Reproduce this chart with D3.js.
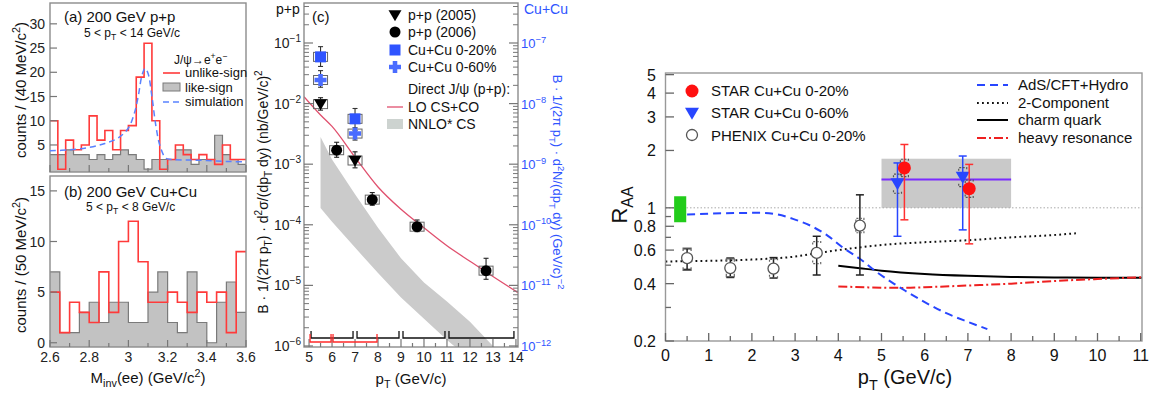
<!DOCTYPE html>
<html><head><meta charset="utf-8">
<script src="https://cdn.jsdelivr.net/npm/d3@7"></script>
<style>body{margin:0;background:#fff}svg{display:block}</style>
</head><body>
<svg id="c" width="1158" height="394"></svg>
<script>
// ---------- DATA ----------
// Panel (a): 200 GeV p+p, 40 MeV bins from 2.6 to 3.6
const massStart = 2.6;
const binWidthA = 0.04;
const unlikeA = [10,0,6,4,5,11,6,8,4,8,9,19,26,10,0,2,5,3,2,3,2,1,5,2,2];
const likeA   = [3,3,4,3,3,2,3,2,3,4,3,2,0,2,2,2,4,4,1,2,2,7,3,2,1];
const simMass = [2.6,2.7,2.8,2.88,2.95,3.0,3.03,3.05,3.07,3.085,3.1,3.12,3.14,3.16,3.19,3.22,3.3,3.4,3.5,3.6];
const simCounts = [3.8,4.0,4.5,5.3,6.5,8.5,11.5,15,19.5,20.8,19.8,15,9,5,2.3,2.0,1.9,1.8,1.6,1.5];
const yTicksA = [5,10,15,20,25,30];
// Panel (b): 200 GeV Cu+Cu, 50 MeV bins
const binWidthB = 0.05;
const unlikeB = [5,1,4,3,2,7,3,10,12,8,4,4,5,4,3,5,4,5,1,9];
const likeB   = [7,1,1,3,4,2,4,4,2,2,5,7,2,1,7,2,0,4,6,3];
const yTicksB = [0,5,10,15];
const massTicks = [2.6,2.8,3.0,3.2,3.4,3.6];
const massTickLabels = ["2.6","2.8","3","3.2","3.4","3.6"];

// Panel (c): invariant cross sections
const pp05Pt = [5.5, 7.0];
const pp05Y = [9.8e-3, 1.15e-3];
const pp05Hi = [1.25e-2, 1.6e-3];
const pp05Lo = [7.8e-3, 8.7e-4];
const pp06Pt = [6.2, 7.75, 9.7, 12.7];
const pp06Y = [1.7e-3, 2.6e-4, 9.3e-5, 1.75e-5];
const pp06Hi = [2.3e-3, 3.4e-4, 1.2e-4, 2.8e-5];
const pp06Lo = [1.3e-3, 2.1e-4, 7.7e-5, 1.26e-5];
const cu20Pt = [5.5, 7.0];
const cu20Y = [5.9e-8, 5.6e-9];
const cu20Hi = [8.7e-8, 8.3e-9];
const cu20Lo = [4.1e-8, 3.6e-9];
const cu60Pt = [5.5, 7.0];
const cu60Y = [2.45e-8, 3.2e-9];
const cu60Hi = [3.5e-8, 4.0e-9];
const cu60Lo = [1.86e-8, 2.5e-9];
const loPt = [4.78, 5.5, 6, 7, 8, 9, 10, 11, 12, 13, 14.09];
const loY = [1.3e-2, 6.5e-3, 4.2e-3, 1.3e-3, 4.2e-4, 1.8e-4, 8.9e-5, 4.5e-5, 2.5e-5, 1.4e-5, 7.6e-6];
const nnloPt = [5.5, 6, 7, 8, 9, 10, 11, 12, 13, 14];
const nnloHi = [2.8e-3, 1.2e-3, 3.2e-4, 8.9e-5, 2.8e-5, 1.12e-5, 5.4e-6, 2.5e-6, 1.0e-6, 4e-7];
const nnloLo = [1.9e-4, 1.12e-4, 4.2e-5, 1.6e-5, 6.3e-6, 2.8e-6, 1.26e-6, 6e-7, 3e-7, 1.5e-7];
const ppBins = [[5,7],[7,9],[9,11],[11,14]];
const cuBins = [[5,6],[6,8]];
const ptTicksC = [5,6,7,8,9,10,11,12,13,14];
const decadesC = [-6,-5,-4,-3,-2,-1];

// Right panel: R_AA
const phenixPt = [0.5,1.5,2.5,3.5,4.5];
const phenixR = [0.545,0.483,0.48,0.58,0.807];
const phenixHi = [0.61,0.545,0.548,0.709,1.17];
const phenixLo = [0.475,0.431,0.428,0.444,0.444];
const phenixSysHi = [0.615,0.54,0.54,0.665,0.88];
const phenixSysLo = [0.47,0.435,0.43,0.51,0.74];
const star20Pt = [5.53,7.03];
const star20R = [1.62,1.26];
const star20Hi = [2.15,1.69];
const star20Lo = [0.865,0.647];
const star60Pt = [5.37,6.88];
const star60R = [1.34,1.45];
const star60Hi = [1.72,1.87];
const star60Lo = [0.709,0.766];
const adsPt = [0.5,1.4,2.2,2.6,2.95,3.35,3.75,4.1,4.5,4.9,5.3,5.55,6.0,6.5,7.0,7.45];
const adsR  = [0.922,0.937,0.941,0.922,0.875,0.807,0.715,0.62,0.54,0.458,0.398,0.367,0.32,0.28,0.252,0.231];
const twoCompPt = [0,1,2,3,3.5,4,4.5,5,6,7,8,9,9.5];
const twoCompR  = [0.523,0.527,0.535,0.555,0.578,0.6,0.62,0.638,0.66,0.676,0.7,0.72,0.735];
const charmPt = [4,4.5,5,6,7,8,9,10,11.03];
const charmR  = [0.497,0.482,0.468,0.45,0.44,0.434,0.431,0.43,0.43];
const resPt = [4,5,5.5,6,7,8,9,10,11.03];
const resR  = [0.387,0.381,0.38,0.383,0.391,0.4,0.413,0.423,0.432];
const boxPt = [5,8]; const boxR = [1.0,1.81]; const avgR = 1.41;
const normPt = [0.2,0.48]; const normR = [0.84,1.15];
const raaTicks = [0.2,0.4,0.6,0.8,1,2,3,4,5];
const raaTickLabels = ["0.2","0.4","0.6","0.8","1","2","3","4","5"];
const raaMinor = [0.3,0.5,0.7,0.9];
const ptTicksR = [0,1,2,3,4,5,6,7,8,9,10,11];

// ---------- DRAWING ----------
const F = "'Liberation Sans', Arial, Helvetica, sans-serif";
const svg = d3.select("#c");
const BLUE = "#2f54ff";

function rich(parent, x, y, parts, o={}) {
  const fs = o.size || 14;
  const t = parent.append("text").attr("x", x).attr("y", y)
    .attr("font-size", fs).attr("font-family", F)
    .attr("fill", o.fill || "#111").attr("text-anchor", o.anchor || "start");
  if (o.rotate) t.attr("transform", `rotate(${o.rotate},${x},${y})`);
  let cur = 0;
  parts.forEach(p => {
    const [s, k] = typeof p === "string" ? [p, null] : p;
    const target = k === "sub" ? 0.28*fs : k === "sup" ? -0.42*fs : 0;
    const ts = t.append("tspan").attr("dy", target - cur).text(s);
    if (k) ts.attr("font-size", fs*0.72);
    cur = target;
  });
  return t;
}
function line(g, x1,y1,x2,y2, col, w, dash) {
  const l = g.append("line").attr("x1",x1).attr("y1",y1).attr("x2",x2).attr("y2",y2)
    .attr("stroke",col).attr("stroke-width",w||1);
  if (dash) l.attr("stroke-dasharray",dash);
  return l;
}
function stepPts(vals, start, bw) {
  const pts = [];
  vals.forEach((v,i) => { pts.push([start+i*bw, v]); pts.push([start+(i+1)*bw, v]); });
  return pts;
}

// ---- panels (a) and (b) ----
const xM = d3.scaleLinear([2.6,3.6],[50,246]);
function histPanel(top, bottom, dom, unlike, like, bw, yTicks, clipId) {
  const y = d3.scaleLinear(dom, [bottom, top]);
  const g = svg.append("g");
  svg.append("clipPath").attr("id",clipId).append("rect").attr("x",50).attr("y",top).attr("width",196).attr("height",bottom-top);
  const gp = g.append("g").attr("clip-path",`url(#${clipId})`);
  const lp = stepPts(like, massStart, bw);
  gp.append("path").attr("d", d3.area().x(d=>xM(d[0])).y0(bottom).y1(d=>y(d[1]))(lp))
    .attr("fill","#c2c2c2").attr("stroke","none");
  gp.append("path").attr("d", d3.line().x(d=>xM(d[0])).y(d=>y(d[1]))(lp))
    .attr("fill","none").attr("stroke","#7a7a7a").attr("stroke-width",1.2);
  const up = stepPts(unlike, massStart, bw);
  gp.append("path").attr("d", d3.line().x(d=>xM(d[0])).y(d=>y(d[1]))(up))
    .attr("fill","none").attr("stroke","#ff3a3a").attr("stroke-width",1.6);
  g.append("rect").attr("x",50).attr("y",top).attr("width",196).attr("height",bottom-top)
    .attr("fill","none").attr("stroke","#8c8c8c").attr("stroke-width",1.4);
  yTicks.forEach(t => {
    line(g, 50, y(t), 57, y(t), "#777", 1.2);
    g.append("text").attr("x",45).attr("y",y(t)+5).attr("text-anchor","end")
      .attr("font-size",14).attr("font-family",F).attr("fill","#222").text(t);
  });
  d3.range(0, 11).forEach(i => {
    const m = 2.6 + i*0.1;
    line(g, xM(m), bottom, xM(m), bottom - (i%2===0 ? 7 : 4), "#777", 1.2);
  });
  return {g, y};
}
const pa = histPanel(3, 172, [-0.58, 34.3], unlikeA, likeA, binWidthA, yTicksA, "clipA");
pa.g.append("path").attr("d", d3.line().curve(d3.curveCatmullRom).x((d,i)=>xM(simMass[i])).y((d,i)=>pa.y(simCounts[i]))(simMass))
  .attr("fill","none").attr("stroke","#5a82ff").attr("stroke-width",1.5).attr("stroke-dasharray","6,4");
const pb = histPanel(176, 347, [-0.42, 16.47], unlikeB, likeB, binWidthB, yTicksB, "clipB");

rich(svg, 64, 22, ["(a) 200 GeV p+p"], {size:15});
rich(svg, 84, 37, ["5 < p",["T","sub"]," < 14 GeV/c"], {size:12});
rich(svg, 174, 64, ["J/ψ→e",["+","sup"],"e",["−","sup"]], {size:12});
line(svg, 163, 73, 180, 73, "#ff3a3a", 1.6);
rich(svg, 185, 77, ["unlike-sign"], {size:13});
svg.append("rect").attr("x",163).attr("y",83).attr("width",17).attr("height",8).attr("fill","#c2c2c2").attr("stroke","#7a7a7a");
rich(svg, 185, 92, ["like-sign"], {size:13});
line(svg, 163, 102, 181, 102, "#5a82ff", 1.5, "6,4");
rich(svg, 185, 106, ["simulation"], {size:13});
rich(svg, 64, 197, ["(b) 200 GeV Cu+Cu"], {size:15});
rich(svg, 86, 211, ["5 < p",["T","sub"]," < 8 GeV/c"], {size:12});
rich(svg, 26, 90, ["counts / (40 MeV/c",["2","sup"],")"], {size:15, rotate:-90, anchor:"middle"});
rich(svg, 26, 265, ["counts / (50 MeV/c",["2","sup"],")"], {size:15, rotate:-90, anchor:"middle"});
massTicks.forEach((m,i) => {
  svg.append("text").attr("x",xM(m)).attr("y",362).attr("text-anchor","middle")
    .attr("font-size",14).attr("font-family",F).attr("fill","#222").text(massTickLabels[i]);
});
rich(svg, 148, 383, ["M",["inv","sub"],"(ee) (GeV/c",["2","sup"],")"], {size:15, anchor:"middle"});

// ---- panel (c) ----
const xC = d3.scaleLinear([4.78, 14.09], [304, 518]);
const yC = d3.scaleLog([Math.pow(10,-6.017), Math.pow(10,-0.34)], [347, 3]);
const yCu = d3.scaleLog(yC.domain().map(d=>d*1e-6), [347, 3]);
const gc = svg.append("g");
svg.append("clipPath").attr("id","clipC").append("rect").attr("x",304).attr("y",3).attr("width",214).attr("height",344);
const gcc = gc.append("g").attr("clip-path","url(#clipC)");
const bandPts = nnloPt.map((p,i)=>[xC(p), yC(nnloHi[i])]).concat(nnloPt.map((p,i)=>[xC(p), yC(nnloLo[i])]).reverse());
gcc.append("path").attr("d", d3.line().curve(d3.curveLinear)(bandPts)).attr("fill","#cbcbcb");
gcc.append("path").attr("d", d3.line().curve(d3.curveMonotoneX).x((d,i)=>xC(loPt[i])).y((d,i)=>yC(loY[i]))(loPt))
  .attr("fill","none").attr("stroke","#e0506e").attr("stroke-width",1.3);
gc.append("rect").attr("x",304).attr("y",3).attr("width",214).attr("height",344)
  .attr("fill","none").attr("stroke","#8c8c8c").attr("stroke-width",1.4);
d3.range(5, 14.01, 0.5).forEach(p => {
  const major = Math.abs(p - Math.round(p)) < 1e-6;
  line(gc, xC(p), 347, xC(p), 347 - (major ? 8 : 4), "#777", 1.2);
});
ptTicksC.forEach(p => {
  gc.append("text").attr("x",xC(p)).attr("y",362).attr("text-anchor","middle")
    .attr("font-size",14).attr("font-family",F).attr("fill","#222").text(p);
});
decadesC.forEach(d => {
  const yy = yC(Math.pow(10,d));
  line(gc, 304, yy, 313, yy, "#777", 1.2);
  line(gc, 518, yy, 509, yy, "#777", 1.2);
  rich(gc, 301, yy+5, ["10",[String(d).replace("-","−"),"sup"]], {size:14, anchor:"end", fill:"#222"});
  rich(gc, 521, yy+5, ["10",[String(d-6).replace("-","−"),"sup"]], {size:13, fill:BLUE});
  if (d < -1) {
    for (let k=2;k<10;k++){ const v=k*Math.pow(10,d); const yv=yC(v); if (yv<3) continue;
      line(gc, 304, yv, 309, yv, "#777", 1); line(gc, 518, yv, 513, yv, "#777", 1); }
  }
});
for (let k=2;k<10;k++){ const yv=yC(k*0.1); if (yv>=3){ line(gc,304,yv,309,yv,"#777",1); line(gc,518,yv,513,yv,"#777",1);} }
ppBins.forEach(b => {
  const x1 = xC(b[0])+2, x2 = xC(b[1])-2;
  gc.append("path").attr("d",`M${x1},331V338H${x2}V331`).attr("fill","none").attr("stroke","#111").attr("stroke-width",1.3);
});
cuBins.forEach(b => {
  const x1 = xC(b[0])+1, x2 = xC(b[1])-1;
  gc.append("path").attr("d",`M${x1},334V342H${x2}V334`).attr("fill","none").attr("stroke","#ff2a2a").attr("stroke-width",1.3);
});
function errC(g, x, hi, lo, col) {
  line(g, x, hi, x, lo, col, 1.1);
  line(g, x-2.5, hi, x+2.5, hi, col, 1.1);
  line(g, x-2.5, lo, x+2.5, lo, col, 1.1);
}
function sysBox(g, x, yv, col) {
  g.append("rect").attr("x",x-7).attr("y",yv-4.5).attr("width",14).attr("height",9)
    .attr("fill","none").attr("stroke",col||"#666").attr("stroke-width",1);
}
const tri = (x,y,s)=>`M${x-s},${y-s*0.75}L${x+s},${y-s*0.75}L${x},${y+s*0.95}Z`;
const plus = (x,y,s)=>{const a=s*0.38;return `M${x-a},${y-s}H${x+a}V${y-a}H${x+s}V${y+a}H${x+a}V${y+s}H${x-a}V${y+a}H${x-s}V${y-a}H${x-a}Z`;};
pp05Pt.forEach((p,i)=>{ const x=xC(p), yv=yC(pp05Y[i]); errC(gc,x,yC(pp05Hi[i]),yC(pp05Lo[i]),"#222"); sysBox(gc,x,yv);
  gc.append("path").attr("d",tri(x,yv,6.5)).attr("fill","#000"); });
pp06Pt.forEach((p,i)=>{ const x=xC(p), yv=yC(pp06Y[i]); errC(gc,x,yC(pp06Hi[i]),yC(pp06Lo[i]),"#222"); sysBox(gc,x,yv);
  gc.append("circle").attr("cx",x).attr("cy",yv).attr("r",5.5).attr("fill","#000"); });
cu20Pt.forEach((p,i)=>{ const x=xC(p), yv=yCu(cu20Y[i]); errC(gc,x,yCu(cu20Hi[i]),yCu(cu20Lo[i]),"#333"); sysBox(gc,x,yv);
  gc.append("rect").attr("x",x-5.5).attr("y",yv-5.5).attr("width",11).attr("height",11).attr("fill",BLUE); });
cu60Pt.forEach((p,i)=>{ const x=xC(p), yv=yCu(cu60Y[i]); errC(gc,x,yCu(cu60Hi[i]),yCu(cu60Lo[i]),"#333"); sysBox(gc,x,yv);
  gc.append("path").attr("d",plus(x,yv,6)).attr("fill","#4a6cff"); });
// legend (c)
const LMX = 395;
gc.append("path").attr("d",tri(LMX,15,6.5)).attr("fill","#000");
rich(gc, 408, 20, ["p+p (2005)"], {size:14});
gc.append("circle").attr("cx",LMX).attr("cy",32).attr("r",5.5).attr("fill","#000");
rich(gc, 408, 37, ["p+p (2006)"], {size:14});
gc.append("rect").attr("x",LMX-5.5).attr("y",44.5).attr("width",11).attr("height",11).attr("fill",BLUE);
rich(gc, 408, 55, ["Cu+Cu 0-20%"], {size:14});
gc.append("path").attr("d",plus(LMX,67,6)).attr("fill","#4a6cff");
rich(gc, 408, 72, ["Cu+Cu 0-60%"], {size:14});
rich(gc, 408, 94, ["Direct J/ψ (p+p):"], {size:14});
line(gc, 387, 107, 403, 107, "#e0506e", 1.3);
rich(gc, 408, 112, ["LO CS+CO"], {size:14});
gc.append("rect").attr("x",387).attr("y",119).attr("width",16).attr("height",10).attr("fill","#cdd3d0");
rich(gc, 408, 129, ["NNLO* CS"], {size:14});
rich(gc, 276, 14, ["p+p"], {size:14});
rich(gc, 312, 22, ["(c)"], {size:15});
rich(gc, 524, 14, ["Cu+Cu"], {size:14, fill:BLUE});
rich(gc, 268, 192, ["B · 1/(2π p",["T","sub"],") · d",["2","sup"],"σ/(dp",["T","sub"]," dy)   (nb/GeV/c)",["2","sup"]], {size:14, rotate:-90, anchor:"middle"});
rich(gc, 553, 182, ["B · 1/(2π p",["T","sub"],") · d",["2","sup"],"N/(dp",["T","sub"]," dy)   (GeV/c)",["−2","sup"]], {size:13, rotate:90, anchor:"middle", fill:BLUE});
rich(gc, 411, 384, ["p",["T","sub"]," (GeV/c)"], {size:15, anchor:"middle"});

// ---- right panel ----
const xR = d3.scaleLinear([0, 11.03], [665.5, 1142]);
const yR = d3.scaleLog([0.2, 5.1], [341, 73]);
const gr = svg.append("g");
svg.append("clipPath").attr("id","clipR").append("rect").attr("x",665.5).attr("y",73).attr("width",476.5).attr("height",268);
const grc = gr.append("g").attr("clip-path","url(#clipR)");
grc.append("rect").attr("x",xR(boxPt[0])).attr("y",yR(boxR[1])).attr("width",xR(boxPt[1])-xR(boxPt[0])).attr("height",yR(boxR[0])-yR(boxR[1])).attr("fill","#c9c9c9");
line(grc, xR(0), yR(1), xR(11.03), yR(1), "#aaa", 1, "1.5,2");
line(grc, xR(boxPt[0]), yR(avgR), xR(boxPt[1]), yR(avgR), "#7b2bff", 2);
const lr = (px, ry) => d3.line().curve(d3.curveMonotoneX).x((d,i)=>xR(px[i])).y((d,i)=>yR(ry[i]))(px);
grc.append("path").attr("d",lr(twoCompPt,twoCompR)).attr("fill","none").attr("stroke","#111").attr("stroke-width",2).attr("stroke-dasharray","1.8,3.2");
grc.append("path").attr("d",lr(charmPt,charmR)).attr("fill","none").attr("stroke","#000").attr("stroke-width",2);
grc.append("path").attr("d",lr(resPt,resR)).attr("fill","none").attr("stroke","#ee2020").attr("stroke-width",2).attr("stroke-dasharray","9,3,2,3");
grc.append("path").attr("d",lr(adsPt,adsR)).attr("fill","none").attr("stroke","#2846ff").attr("stroke-width",2).attr("stroke-dasharray","8,5");
grc.append("rect").attr("x",xR(normPt[0])).attr("y",yR(normR[1])).attr("width",xR(normPt[1])-xR(normPt[0])).attr("height",yR(normR[0])-yR(normR[1])).attr("fill","#22cc1a");
function errR(g, x, hi, lo, col, w) {
  line(g, x, yR(hi), x, yR(lo), col, w||1.5);
  line(g, x-4, yR(hi), x+4, yR(hi), col, w||1.5);
  line(g, x-4, yR(lo), x+4, yR(lo), col, w||1.5);
}
function sysBr(g, x, hi, lo, col, dash) {
  const a=yR(hi), b=yR(lo);
  const p1 = g.append("path").attr("d",`M${x-4},${a+3}V${a}H${x+4}V${a+3}M${x-4},${b-3}V${b}H${x+4}V${b-3}`)
    .attr("fill","none").attr("stroke",col).attr("stroke-width",1.2);
  if (dash) p1.attr("stroke-dasharray",dash);
}
phenixPt.forEach((p,i)=>{ const x=xR(p);
  errR(gr, x, phenixHi[i], phenixLo[i], "#222", 1.5);
  sysBr(gr, x, phenixSysHi[i], phenixSysLo[i], "#666", i>=2?"2,1.5":null);
  gr.append("circle").attr("cx",x).attr("cy",yR(phenixR[i])).attr("r",5.5).attr("fill","#fff").attr("stroke","#555").attr("stroke-width",1.3);
});
star60Pt.forEach((p,i)=>{ const x=xR(p);
  errR(gr, x, star60Hi[i], star60Lo[i], "#2846ff");
  sysBr(gr, x, star60R[i]*1.12, star60R[i]*0.89, "#555", "2,1.5");
  gr.append("path").attr("d",tri(x,yR(star60R[i]),7)).attr("fill","#2846ff");
});
star20Pt.forEach((p,i)=>{ const x=xR(p);
  errR(gr, x, star20Hi[i], star20Lo[i], "#ff3030");
  sysBr(gr, x, star20R[i]*1.11, star20R[i]*0.9, "#555", "2,1.5");
  gr.append("circle").attr("cx",x).attr("cy",yR(star20R[i])).attr("r",6.5).attr("fill","#ff1010");
});
gr.append("rect").attr("x",665.5).attr("y",73).attr("width",476.5).attr("height",268)
  .attr("fill","none").attr("stroke","#999").attr("stroke-width",1.4);
raaTicks.forEach((t,i)=>{ const yy=yR(t);
  line(gr, 665.5, yy, 674, yy, "#666", 1.3);
  gr.append("text").attr("x",656).attr("y",yy+6).attr("text-anchor","end").attr("font-size",16).attr("font-family",F).attr("fill","#111").text(raaTickLabels[i]);
});
raaMinor.forEach(t=>line(gr, 665.5, yR(t), 671, yR(t), "#666", 1.3));
d3.range(0, 11.01, 0.5).forEach(p=>{
  const major = Math.abs(p-Math.round(p))<1e-6;
  line(gr, xR(p), 341, xR(p), 341-(major?8:5), "#666", 1.3);
});
ptTicksR.forEach(p=>{
  gr.append("text").attr("x",xR(p)).attr("y",361).attr("text-anchor","middle").attr("font-size",16).attr("font-family",F).attr("fill","#111").text(p);
});
rich(gr, 905, 384, ["p",["T","sub"]," (GeV/c)"], {size:20, anchor:"middle"});
rich(gr, 627, 205, ["R",["AA","sub"]], {size:22, rotate:-90, anchor:"middle"});
gr.append("circle").attr("cx",692).attr("cy",91).attr("r",6.5).attr("fill","#ff1010");
rich(gr, 711, 96, ["STAR Cu+Cu 0-20%"], {size:15});
gr.append("path").attr("d",tri(692,113,7)).attr("fill","#2846ff");
rich(gr, 711, 118, ["STAR Cu+Cu 0-60%"], {size:15});
gr.append("circle").attr("cx",692).attr("cy",135).attr("r",5.5).attr("fill","#fff").attr("stroke","#555").attr("stroke-width",1.3);
rich(gr, 711, 141, ["PHENIX Cu+Cu 0-20%"], {size:15});
line(gr, 977, 85, 1008, 85, "#2846ff", 2, "8,5");
rich(gr, 1018, 90, ["AdS/CFT+Hydro"], {size:15});
line(gr, 977, 103, 1008, 103, "#111", 2, "1.8,3.2");
rich(gr, 1018, 108, ["2-Component"], {size:15});
line(gr, 977, 120, 1008, 120, "#000", 2);
rich(gr, 1018, 125, ["charm quark"], {size:15});
line(gr, 977, 138, 1008, 138, "#ee2020", 2, "9,3,2,3");
rich(gr, 1018, 143, ["heavy resonance"], {size:15});
</script>
</body></html>
